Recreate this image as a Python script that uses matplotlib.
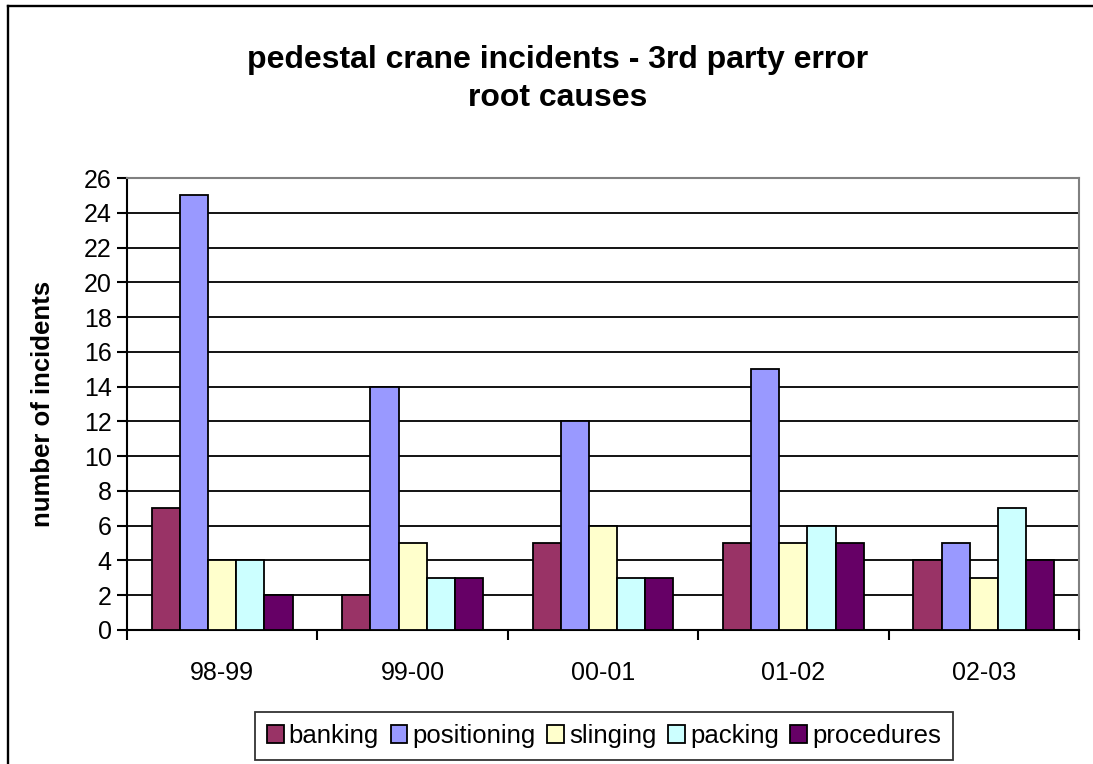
import numpy as np
import matplotlib.pyplot as plt
from matplotlib.lines import Line2D

plt.rcParams['font.family'] = ['Liberation Sans', 'DejaVu Sans']

# data
years = ["98-99", "99-00", "00-01", "01-02", "02-03"]
banking = [7, 2, 5, 5, 4]
positioning = [25, 14, 12, 15, 5]
slinging = [4, 5, 6, 5, 3]
packing = [4, 3, 3, 6, 7]
procedures = [2, 3, 3, 5, 4]

series = ["banking", "positioning", "slinging", "packing", "procedures"]
values = [banking, positioning, slinging, packing, procedures]
colors = ["#993366", "#9999FF", "#FFFFCC", "#CCFFFF", "#660066"]

fig = plt.figure(figsize=(10.93, 7.64), dpi=100)
ax = fig.add_axes([0.1162, 0.1754, 0.871, 0.5916])

x = np.arange(len(years))
w = 0.148
for i, (name, vals, c) in enumerate(zip(series, values, colors)):
    ax.bar(x + (i - 2) * w, vals, width=w, color=c, edgecolor="black",
           linewidth=1.3, label=name, zorder=3)

ax.set_xlim(-0.5, len(years) - 0.5)
ax.set_ylim(0, 26)
ax.set_yticks(range(0, 27, 2))
ax.yaxis.grid(True, color="black", linewidth=1.3, zorder=0)
ax.set_axisbelow(True)

# category ticks sit between the groups
ax.set_xticks(np.arange(-0.5, len(years), 1.0))
ax.set_xticklabels([])
ax.set_xticks(x, minor=True)
ax.set_xticklabels(years, minor=True)
ax.tick_params(axis="x", which="minor", length=0, pad=22, labelsize=18)
ax.tick_params(axis="x", which="major", direction="out", length=7, width=1.5)
ax.tick_params(axis="y", direction="out", length=7, width=1.5, labelsize=18, pad=4)

ax.spines["left"].set_linewidth(1.5)
ax.spines["bottom"].set_linewidth(1.5)
ax.spines["top"].set_color("#808080")
ax.spines["right"].set_color("#808080")
ax.spines["top"].set_linewidth(1.5)
ax.spines["right"].set_linewidth(1.5)

ax.set_ylabel("number of incidents", fontsize=18.5, fontweight="bold", labelpad=21)

fig.text(0.5105, 0.897, "pedestal crane incidents - 3rd party error\nroot causes",
         ha="center", va="center", fontsize=23, fontweight="bold", linespacing=1.35)

leg = fig.legend(loc="center", bbox_to_anchor=(0.5526, 0.0366), ncol=5,
                 fontsize=18.5, frameon=True, fancybox=False, edgecolor="black",
                 handlelength=0.65, handleheight=0.65, handletextpad=0.2,
                 columnspacing=0.45, borderpad=0.45, borderaxespad=0)
leg.get_frame().set_linewidth(1.3)

# chart border, only left and top edges are in view
fig.add_artist(Line2D([0.0073, 0.0073], [0.0, 0.992], transform=fig.transFigure,
                      color="black", linewidth=1.7))
fig.add_artist(Line2D([0.0073, 1.0], [0.992, 0.992], transform=fig.transFigure,
                      color="black", linewidth=1.7))

fig.savefig("out.png", dpi=100)
